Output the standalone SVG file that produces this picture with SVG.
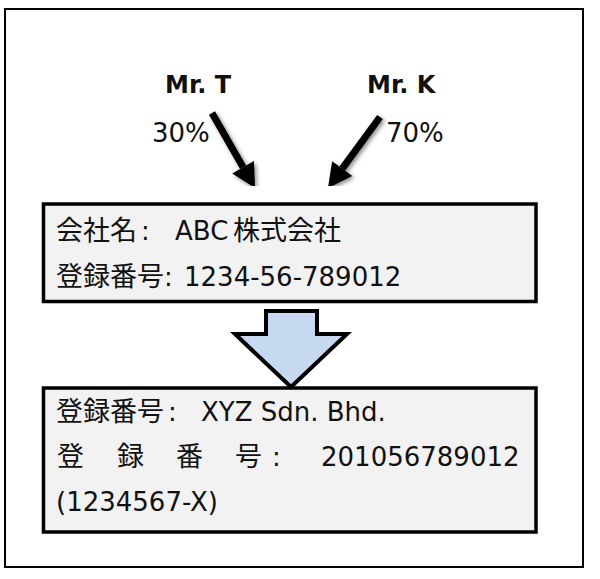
<svg xmlns="http://www.w3.org/2000/svg" width="600" height="579" viewBox="0 0 600 579">
<style>
.lat{font-family:"DejaVu Sans","Noto Sans CJK JP",sans-serif;font-size:26px;fill:#111}
.cjk{font-family:"Noto Sans CJK JP",sans-serif;font-size:27px;fill:#111}
.bold{font-family:"DejaVu Sans",sans-serif;font-size:24px;font-weight:bold;fill:#111}
.box{fill:#f2f2f2;stroke:#000;stroke-width:3.5}
.conn{stroke:#000;stroke-width:7;fill:none}
</style>
<defs>
<marker id="ah" markerUnits="userSpaceOnUse" markerWidth="24" markerHeight="26" refX="0" refY="13" orient="auto" overflow="visible">
<path d="M0,0.5 L24,13 L0,25.5 z" fill="#000"/>
</marker>
<filter id="sh" x="-30%" y="-30%" width="160%" height="160%">
<feGaussianBlur in="SourceAlpha" stdDeviation="2"/>
<feOffset dx="2" dy="2" result="b"/>
<feComponentTransfer><feFuncA type="linear" slope="0.45"/></feComponentTransfer>
<feMerge><feMergeNode/><feMergeNode in="SourceGraphic"/></feMerge>
</filter>
</defs>
<rect x="5" y="9" width="578" height="558" fill="#fff" stroke="#000" stroke-width="2"/>

<g id="mr-t">
<text class="bold" x="165" y="93">Mr. T</text>
</g>
<g id="mr-k">
<text class="bold" x="367" y="93">Mr. K</text>
</g>

<g id="company-abc">
<rect class="box" x="43.5" y="204" width="492.5" height="97.5"/>
<text y="240"><tspan class="cjk" x="56">会社名</tspan><tspan class="lat" x="141">:</tspan><tspan class="lat" x="175">ABC</tspan><tspan class="cjk" x="233">株式会社</tspan></text>
<text y="286"><tspan class="cjk" x="56">登録番号</tspan><tspan class="lat" x="164">:</tspan><tspan class="lat" x="184">1234-56-789012</tspan></text>
</g>

<g id="company-xyz">
<rect class="box" x="43.5" y="388" width="492.5" height="144"/>
<text y="421"><tspan class="cjk" x="56">登録番号</tspan><tspan class="lat" x="168">:</tspan><tspan class="lat" x="201">XYZ Sdn. Bhd.</tspan></text>
<text y="466"><tspan class="cjk" x="57">登</tspan><tspan class="cjk" x="117">録</tspan><tspan class="cjk" x="176">番</tspan><tspan class="cjk" x="235">号</tspan><tspan class="lat" x="272">:</tspan><tspan class="lat" x="321">201056789012</tspan></text>
<text y="511"><tspan class="lat" x="56">(1234567-X)</tspan></text>
</g>

<g id="connectors">
<g filter="url(#sh)">
<line class="conn" x1="212" y1="113" x2="243.1" y2="167.2" marker-end="url(#ah)"/>
<line class="conn" x1="380" y1="117" x2="342.2" y2="168.6" marker-end="url(#ah)"/>
</g>
<text class="lat" x="152" y="142">30%</text>
<text class="lat" x="386" y="142">70%</text>
<path d="M266,311 L317,311 L317,334 L347,334 L291,387 L235,334 L266,334 Z" fill="#c6d9f1" stroke="#000" stroke-width="4" stroke-linejoin="miter"/>
</g>
</svg>
